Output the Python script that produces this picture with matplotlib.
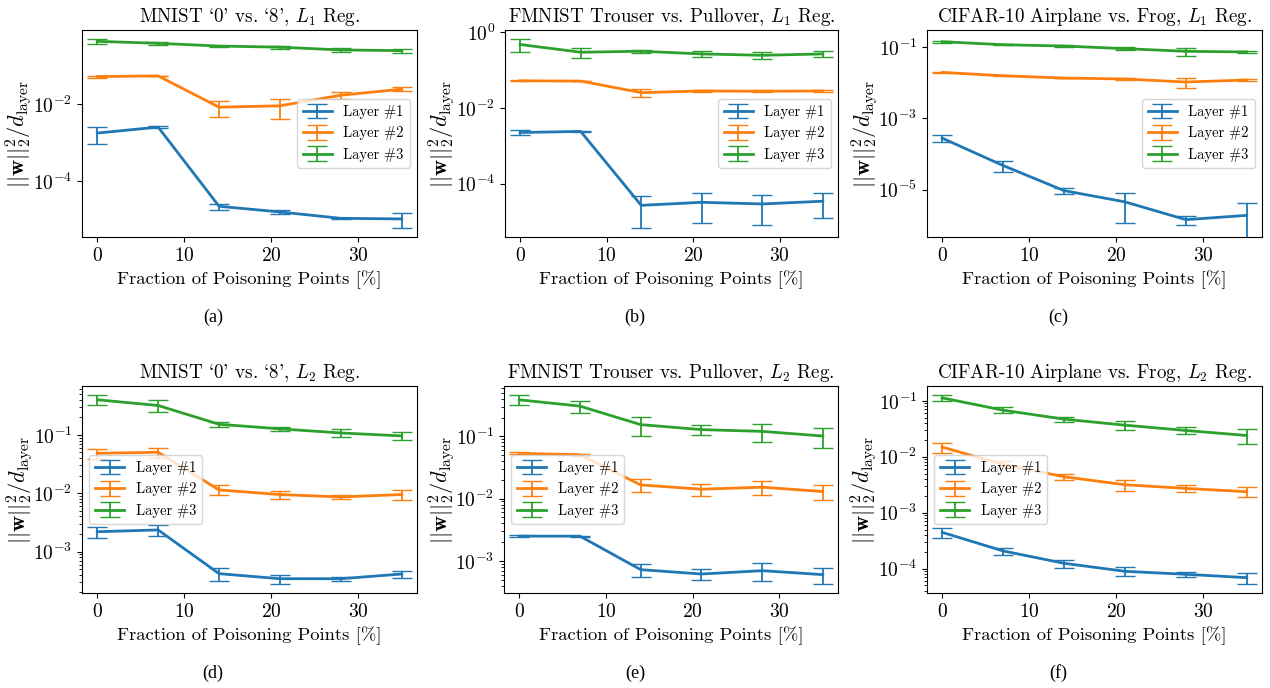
import numpy as np
import matplotlib
matplotlib.use("Agg")
import matplotlib.pyplot as plt
from matplotlib.ticker import LogLocator, NullLocator

plt.rcParams['font.family'] = ['cmr10', 'DejaVu Serif']
plt.rcParams['mathtext.fontset'] = 'cm'
plt.rcParams['axes.formatter.use_mathtext'] = True
plt.rcParams['axes.unicode_minus'] = False

# poisoning fraction [%]
x = [0, 7, 14, 21, 28, 35]
layers = ['Layer #1', 'Layer #2', 'Layer #3']
colors = ['#1f77b4', '#ff7f0e', '#2ca02c']

# cmr10 is TeX encoded: ` gives the left quote, ' the right quote
titles = [r"MNIST `0' vs. `8', $L_1$ Reg.",
          r'FMNIST Trouser vs. Pullover, $L_1$ Reg.',
          r'CIFAR-10 Airplane vs. Frog, $L_1$ Reg.',
          r"MNIST `0' vs. `8', $L_2$ Reg.",
          r'FMNIST Trouser vs. Pullover, $L_2$ Reg.',
          r'CIFAR-10 Airplane vs. Frog, $L_2$ Reg.']
captions = ['(a)', '(b)', '(c)', '(d)', '(e)', '(f)']
legend_loc = ['center right', 'center right', 'center right',
              'center left', 'center left', 'center left']

# (a) MNIST L1
a_mean = [[1.76e-3, 2.51e-3, 2.27e-5, 1.62e-5, 1.11e-5, 1.07e-5],
          [0.0506, 0.0526, 0.0082, 0.0089, 0.0167, 0.0239],
          [0.41, 0.365, 0.31, 0.29, 0.246, 0.236]]
a_std = [[8.4e-4, 1e-4, 0.4e-5, 0.15e-5, 0.05e-5, 0.43e-5],
         [0.003, 0.001, 0.0037, 0.0048, 0.003, 0.003],
         [0.05, 0.04, 0.01, 0.03, 0.025, 0.03]]

# (b) FMNIST L1
b_mean = [[2.25e-3, 2.4e-3, 2.7e-5, 3.25e-5, 2.94e-5, 3.47e-5],
          [0.0518, 0.051, 0.0253, 0.028, 0.0275, 0.028],
          [0.47, 0.294, 0.312, 0.265, 0.244, 0.265]]
b_std = [[3e-4, 1e-4, 2.0e-5, 2.35e-5, 2.1e-5, 2.2e-5],
         [0.002, 0.001, 0.006, 0.002, 0.002, 0.002],
         [0.17, 0.09, 0.03, 0.05, 0.05, 0.05]]

# (c) CIFAR-10 L1
c_mean = [[2.78e-4, 4.74e-5, 9.38e-6, 4.54e-6, 1.44e-6, 1.9e-6],
          [0.0194, 0.0156, 0.0135, 0.01265, 0.01044, 0.01186],
          [0.1406, 0.116, 0.1066, 0.0899, 0.0758, 0.0726]]
c_std = [[0.6e-4, 1.65e-5, 2e-6, 3.4e-6, 0.42e-6, 2.27e-6],
         [0.0006, 0.0004, 0.0004, 0.0005, 0.0033, 0.0008],
         [0.01, 0.004, 0.004, 0.008, 0.018, 0.005]]

# (d) MNIST L2
d_mean = [[2.19e-3, 2.35e-3, 4.19e-4, 3.43e-4, 3.43e-4, 4.13e-4],
          [0.0484, 0.0504, 0.0114, 0.00949, 0.00865, 0.0095],
          [0.40, 0.319, 0.152, 0.127, 0.108, 0.096]]
d_std = [[5e-4, 5e-4, 1.1e-4, 0.6e-4, 0.3e-4, 0.6e-4],
         [0.01, 0.01, 0.0022, 0.0015, 0.0007, 0.0017],
         [0.075, 0.07, 0.016, 0.012, 0.017, 0.015]]

# (e) FMNIST L2
e_mean = [[2.5e-3, 2.5e-3, 7.25e-4, 6.17e-4, 6.98e-4, 6.03e-4],
          [0.0532, 0.0506, 0.0166, 0.01415, 0.01524, 0.013],
          [0.385, 0.305, 0.154, 0.128, 0.12, 0.101]]
e_std = [[1e-4, 0.5e-4, 1.7e-4, 1.3e-4, 2.2e-4, 1.7e-4],
         [0.002, 0.002, 0.004, 0.003, 0.004, 0.0036],
         [0.068, 0.07, 0.053, 0.022, 0.04, 0.037]]

# (f) CIFAR-10 L2
f_mean = [[4.45e-4, 2.07e-4, 1.245e-4, 8.95e-5, 7.92e-5, 6.9e-5],
          [0.0149, 0.0073, 0.00439, 0.00316, 0.00272, 0.00237],
          [0.113, 0.068, 0.047, 0.0367, 0.0295, 0.024]]
f_std = [[0.9e-4, 0.3e-4, 0.2e-4, 1.6e-5, 0.8e-5, 1.5e-5],
         [0.003, 0.001, 0.0006, 0.0007, 0.0004, 0.0005],
         [0.012, 0.008, 0.005, 0.007, 0.004, 0.007]]

means = [a_mean, b_mean, c_mean, d_mean, e_mean, f_mean]
stds = [a_std, b_std, c_std, d_std, e_std, f_std]

W, H = 1270, 688
fig = plt.figure(figsize=(W / 100, H / 100), dpi=100)

# axes boxes in pixels: left, right, top, bottom
boxes = [(82, 417, 30, 237), (505, 838, 30, 237), (927, 1262, 30, 237),
         (82, 417, 386, 593), (504, 838, 386, 593), (927, 1262, 386, 593)]
cap_pos = [(213, 317), (635, 317), (1058, 317),
           (213, 673), (635, 673), (1058, 673)]

for i in range(6):
    l, r, t, b = boxes[i]
    ax = fig.add_axes([l / W, 1 - b / H, (r - l) / W, (b - t) / H])
    for k in range(3):
        ax.errorbar(x, means[i][k], yerr=stds[i][k], color=colors[k],
                    label=layers[k], linewidth=2, elinewidth=1.3, capsize=7.5)
    ax.set_yscale('log')
    if i == 0:
        ax.yaxis.set_major_locator(LogLocator(base=10, numticks=4))
        ax.yaxis.set_minor_locator(NullLocator())
    if i == 2:
        ax.set_ylim(4.7e-7, 0.3)
    ax.set_xticks([0, 10, 20, 30])
    ax.tick_params(labelsize=14)
    ax.set_title(titles[i], fontsize=13.7)
    ax.set_xlabel('Fraction of Poisoning Points [%]', fontsize=13.4)
    ax.set_ylabel(r'$||\mathbf{w}||_2^2/d_{\mathrm{layer}}$', fontsize=16,
                  labelpad=-1)
    ax.legend(loc=legend_loc[i], fontsize=10.5)
    cx, cy = cap_pos[i]
    fig.text(cx / W, 1 - cy / H, captions[i], ha='center', va='center',
             fontsize=13, family='Liberation Serif')

fig.savefig('out.png', dpi=100)
